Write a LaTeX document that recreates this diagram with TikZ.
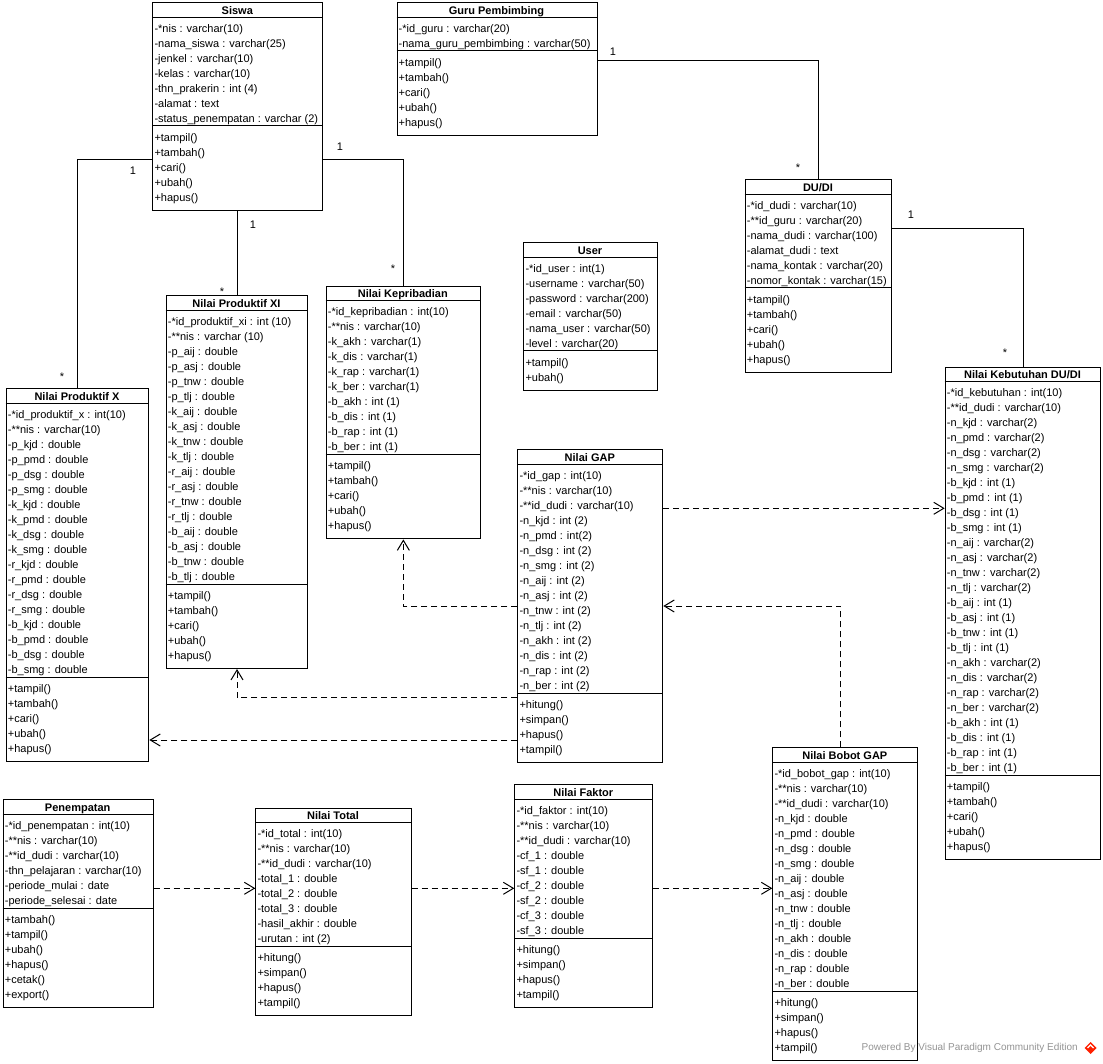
\documentclass[tikz,border=0pt]{standalone}
\usepackage{fontspec}
\setmainfont{Liberation Sans}
\usetikzlibrary{arrows.meta}

% \umlclass{name}{title}{left}{right}{top}{attributes}{operations}
% Rows are 15 units apart; compartments grow with their number of rows.
\newcommand\umlclass[7]{%
  \xdef\UCn{0}\foreach \a [count=\k] in {#6}{\xdef\UCn{\k}}%
  \xdef\UCm{0}\foreach \a [count=\k] in {#7}{\xdef\UCm{\k}}%
  \pgfmathsetmacro\UCw{#4-#3}%
  \pgfmathsetmacro\UCh{27.7+15*(\UCn+\UCm)}%
  \pgfmathsetmacro\UCsa{#5+15}%
  \pgfmathsetmacro\UCsb{#5+18.7+15*\UCn}%
  \node[classbox, minimum width=\UCw pt, minimum height=\UCh pt] (#1) at (#3,#5) {};
  \draw[boxline] (#1.west |- 0,\UCsa) -- (#1.east |- 0,\UCsa);
  \draw[boxline] (#1.west |- 0,\UCsb) -- (#1.east |- 0,\UCsb);
  \node[classtitle] (#1-title) at ({(#3+#4)/2}, #5+9) {#2};
  \foreach \a [count=\k] in {#6}{\node[member] (#1-a\k) at (#3+2, #5+12.5+15*\k) {\a};}
  \foreach \a [count=\k] in {#7}{\node[member] (#1-o\k) at (#3+2, \UCsb-2.6+15*\k) {\a};}
}

\begin{document}
\begin{tikzpicture}[x=1pt, y=-1pt,
  classbox/.style={draw, line width=1pt, fill=white, rectangle, inner sep=0pt, anchor=north west},
  boxline/.style={line width=1pt},
  member/.style={anchor=west, inner sep=0pt, text height=8pt, text depth=2.5pt,
    font=\fontsize{11}{13}\selectfont},
  classtitle/.style={inner sep=0pt, text height=8pt, text depth=2.5pt,
    font=\fontsize{11}{13}\selectfont\bfseries},
  mult/.style={inner sep=0pt, text height=8pt, text depth=2.5pt,
    font=\fontsize{11}{13}\selectfont},
  assoc/.style={line width=1pt},
  dep/.style={line width=1pt, dash pattern=on 6pt off 4pt,
    -{Straight Barb[length=10pt, width=12pt]}},
]
\fill[white] (0,0) rectangle (1103,1064);
\useasboundingbox (0,0) rectangle (1103,1064);

% ---------- classes ----------
\umlclass{siswa}{Siswa}{152.3}{322.3}{2.3}{%
  -*nis : varchar(10),
  -nama\_siswa : varchar(25),
  -jenkel : varchar(10),
  -kelas : varchar(10),
  -thn\_prakerin : int (4),
  -alamat : text,
  -status\_penempatan : varchar (2)}{%
  +tampil(), +tambah(), +cari(), +ubah(), +hapus()}

\umlclass{guru}{Guru Pembimbing}{396.5}{596.5}{2.3}{%
  -*id\_guru : varchar(20),
  -nama\_guru\_pembimbing : varchar(50)}{%
  +tampil(), +tambah(), +cari(), +ubah(), +hapus()}

\umlclass{dudi}{DU/DI}{744.7}{891.3}{179.3}{%
  -*id\_dudi : varchar(10),
  -**id\_guru : varchar(20),
  -nama\_dudi : varchar(100),
  -alamat\_dudi : text,
  -nama\_kontak : varchar(20),
  -nomor\_kontak : varchar(15)}{%
  +tampil(), +tambah(), +cari(), +ubah(), +hapus()}

\umlclass{user}{User}{523.3}{656.7}{242.3}{%
  -*id\_user : int(1),
  -username : varchar(50),
  -password : varchar(200),
  -email : varchar(50),
  -nama\_user : varchar(50),
  -level : varchar(20)}{%
  +tampil(), +ubah()}

\umlclass{npxi}{Nilai Produktif XI}{165.7}{307.3}{295.3}{%
  -*id\_produktif\_xi : int (10),
  -**nis : varchar (10),
  -p\_aij : double, -p\_asj : double, -p\_tnw : double, -p\_tlj : double,
  -k\_aij : double, -k\_asj : double, -k\_tnw : double, -k\_tlj : double,
  -r\_aij : double, -r\_asj : double, -r\_tnw : double, -r\_tlj : double,
  -b\_aij : double, -b\_asj : double, -b\_tnw : double, -b\_tlj : double}{%
  +tampil(), +tambah(), +cari(), +ubah(), +hapus()}

\umlclass{kep}{Nilai Kepribadian}{325.7}{480}{285.7}{%
  -*id\_kepribadian : int(10),
  -**nis : varchar(10),
  -k\_akh : varchar(1), -k\_dis : varchar(1), -k\_rap : varchar(1), -k\_ber : varchar(1),
  -b\_akh : int (1), -b\_dis : int (1), -b\_rap : int (1), -b\_ber : int (1)}{%
  +tampil(), +tambah(), +cari(), +ubah(), +hapus()}

\umlclass{npx}{Nilai Produktif X}{5.7}{148.3}{388.3}{%
  -*id\_produktif\_x : int(10),
  -**nis : varchar(10),
  -p\_kjd : double, -p\_pmd : double, -p\_dsg : double, -p\_smg : double,
  -k\_kjd : double, -k\_pmd : double, -k\_dsg : double, -k\_smg : double,
  -r\_kjd : double, -r\_pmd : double, -r\_dsg : double, -r\_smg : double,
  -b\_kjd : double, -b\_pmd : double, -b\_dsg : double, -b\_smg : double}{%
  +tampil(), +tambah(), +cari(), +ubah(), +hapus()}

\umlclass{gap}{Nilai GAP}{517.3}{662.3}{449.3}{%
  -*id\_gap : int(10),
  -**nis : varchar(10),
  -**id\_dudi : varchar(10),
  -n\_kjd : int (2), -n\_pmd : int(2), -n\_dsg : int (2), -n\_smg : int (2),
  -n\_aij : int (2), -n\_asj : int (2), -n\_tnw : int (2), -n\_tlj : int (2),
  -n\_akh : int (2), -n\_dis : int (2), -n\_rap : int (2), -n\_ber : int (2)}{%
  +hitung(), +simpan(), +hapus(), +tampil()}

\umlclass{keb}{Nilai Kebutuhan DU/DI}{944.7}{1100.3}{366.7}{%
  -*id\_kebutuhan : int(10),
  -**id\_dudi : varchar(10),
  -n\_kjd : varchar(2), -n\_pmd : varchar(2), -n\_dsg : varchar(2), -n\_smg : varchar(2),
  -b\_kjd : int (1), -b\_pmd : int (1), -b\_dsg : int (1), -b\_smg : int (1),
  -n\_aij : varchar(2), -n\_asj : varchar(2), -n\_tnw : varchar(2), -n\_tlj : varchar(2),
  -b\_aij : int (1), -b\_asj : int (1), -b\_tnw : int (1), -b\_tlj : int (1),
  -n\_akh : varchar(2), -n\_dis : varchar(2), -n\_rap : varchar(2), -n\_ber : varchar(2),
  -b\_akh : int (1), -b\_dis : int (1), -b\_rap : int (1), -b\_ber : int (1)}{%
  +tampil(), +tambah(), +cari(), +ubah(), +hapus()}

\umlclass{bobot}{Nilai Bobot GAP}{772.3}{917.3}{747.3}{%
  -*id\_bobot\_gap : int(10),
  -**nis : varchar(10),
  -**id\_dudi : varchar(10),
  -n\_kjd : double, -n\_pmd : double, -n\_dsg : double, -n\_smg : double,
  -n\_aij : double, -n\_asj : double, -n\_tnw : double, -n\_tlj : double,
  -n\_akh : double, -n\_dis : double, -n\_rap : double, -n\_ber : double}{%
  +hitung(), +simpan(), +hapus(), +tampil()}

\umlclass{tempat}{Penempatan}{2.7}{152.7}{799.3}{%
  -*id\_penempatan : int(10),
  -**nis : varchar(10),
  -**id\_dudi : varchar(10),
  -thn\_pelajaran : varchar(10),
  -periode\_mulai : date,
  -periode\_selesai : date}{%
  +tambah(), +tampil(), +ubah(), +hapus(), +cetak(), +export()}

\umlclass{total}{Nilai Total}{255.3}{410.7}{807.7}{%
  -*id\_total : int(10),
  -**nis : varchar(10),
  -**id\_dudi : varchar(10),
  -total\_1 : double, -total\_2 : double, -total\_3 : double,
  -hasil\_akhir : double,
  -urutan : int (2)}{%
  +hitung(), +simpan(), +hapus(), +tampil()}

\umlclass{faktor}{Nilai Faktor}{514.3}{652.3}{784.3}{%
  -*id\_faktor : int(10),
  -**nis : varchar(10),
  -**id\_dudi : varchar(10),
  -cf\_1 : double, -sf\_1 : double, -cf\_2 : double,
  -sf\_2 : double, -cf\_3 : double, -sf\_3 : double}{%
  +hitung(), +simpan(), +hapus(), +tampil()}

% ---------- associations ----------
\draw[assoc] (siswa.west |- 0,159.3) -| (npx.north);
\draw[assoc] (npxi.north |- siswa.south) -- (npxi.north);
\draw[assoc] (siswa.east |- 0,159.3) -| (kep.north);
\draw[assoc] (guru.east |- 0,60.7) -| (dudi.north);
\draw[assoc] (dudi.east |- 0,228.7) -| (keb.north);

\node[mult] (m-sx1) at (133,172) {1};
\node[mult] (m-npx) at (62,378) {*};
\node[mult] (m-sx2) at (253,226) {1};
\node[mult] (m-npxi) at (222,293) {*};
\node[mult] (m-sx3) at (340,148) {1};
\node[mult] (m-kep) at (393,270) {*};
\node[mult] (m-guru) at (613,53) {1};
\node[mult] (m-dudi) at (798,169) {*};
\node[mult] (m-dudi2) at (911,215.5) {1};
\node[mult] (m-keb) at (1005,354) {*};

% ---------- dependencies ----------
\draw[dep] (gap.east |- 0,508.3) -- (keb.west |- 0,508.3);
\draw[dep] ([xshift=-4.5pt]bobot.north) |- (gap.east |- 0,606);
\draw[dep] (gap.west |- 0,606) -| (kep.south);
\draw[dep] (gap.west |- 0,697.3) -| (npxi.south);
\draw[dep] (gap.west |- 0,740) -- (npx.east |- 0,740);
\draw[dep] (tempat.east |- 0,888.3) -- (total.west |- 0,888.3);
\draw[dep] (total.east |- 0,888.3) -- (faktor.west |- 0,888.3);
\draw[dep] (faktor.east |- 0,888.3) -- (bobot.west |- 0,888.3);

% ---------- edition mark ----------
\node[anchor=west, inner sep=0pt, text=black!42, font=\fontsize{10}{12}\selectfont]
  (edition) at (861.5,1048) {Powered By Visual Paradigm Community Edition};
\fill[red!75!orange] (1090.5,1042) -- (1096.5,1048) -- (1090.5,1054) -- (1084.5,1048) -- cycle;
\draw[white, line width=1.2pt] (1087.5,1048) -- (1090.5,1045) -- (1093.5,1048);
\end{tikzpicture}
\end{document}
